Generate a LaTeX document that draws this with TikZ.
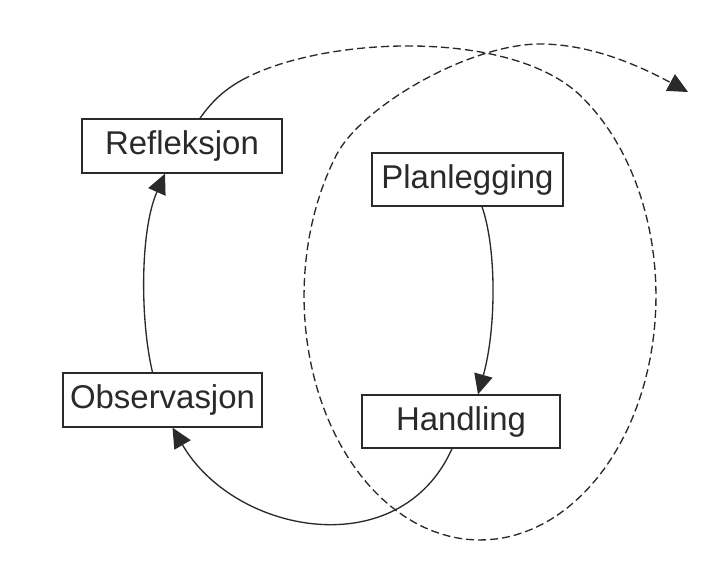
\documentclass[tikz,border=0pt]{standalone}
\usepackage{fontspec}
\setmainfont{Liberation Sans}
\usetikzlibrary{arrows.meta,calc}
\definecolor{ink}{HTML}{2A2A2A}
\begin{document}
\begin{tikzpicture}[x=0.75pt,y=-0.75pt,
  phase/.style={draw=ink, line width=1pt, text=ink, inner sep=0pt,
    font=\fontsize{24.7}{28}\selectfont},
  tip/.style={-{Triangle[length=15pt,width=14pt]}},
  flow/.style={draw=ink, line width=1pt, tip},
  spiral/.style={draw=ink, line width=1pt, dash pattern=on 6pt off 3pt}]
\fill[white] (0,0) rectangle (712,582);
\useasboundingbox (0,0) rectangle (712,582);

% the four phases of the cycle
\node[phase, minimum width=150pt, minimum height=40.5pt] (refl) at (182,146) {Refleksjon};
\node[phase, minimum width=143.25pt, minimum height=39.75pt] (plan) at (467.5,179.5) {Planlegging};
\node[phase, minimum width=149.25pt, minimum height=40.5pt] (obs) at (162.5,400) {Observasjon};
\node[phase, minimum width=148.5pt, minimum height=39.75pt] (hand) at (461,421.5) {Handling};

% inner cycle
\draw[flow] ($(plan.south)+(14.5,0)$) .. controls (497,250) and (496,330) .. ($(hand.north)+(17,0)$);
\draw[flow] ($(hand.south)+(-9,0)$) .. controls (400,565) and (235,535) .. ($(obs.south)+(10,0)$);
\draw[flow] ($(obs.north)+(-10,0)$) .. controls (140,320) and (140,230) .. ($(refl.south)+(-17,0)$);

% from reflection into the next round of the spiral
\coordinate (turn) at (242,80);
\coordinate (onward) at (688,92);
\draw[draw=ink, line width=1pt] ($(refl.north)+(18,0)$) .. controls (210,104) and (222,91) .. (turn);
\draw[spiral, tip] (turn) .. controls (322,36) and (511,28) .. (580.95,96.13)
  -- plot[domain=-55:215, samples=90] ({480+176*cos(\x)}, {296+244*sin(\x)})
  .. controls (361,106) and (470,44) .. (540,44)
  .. controls (590,44) and (638,65) .. (onward);
\end{tikzpicture}
\end{document}
